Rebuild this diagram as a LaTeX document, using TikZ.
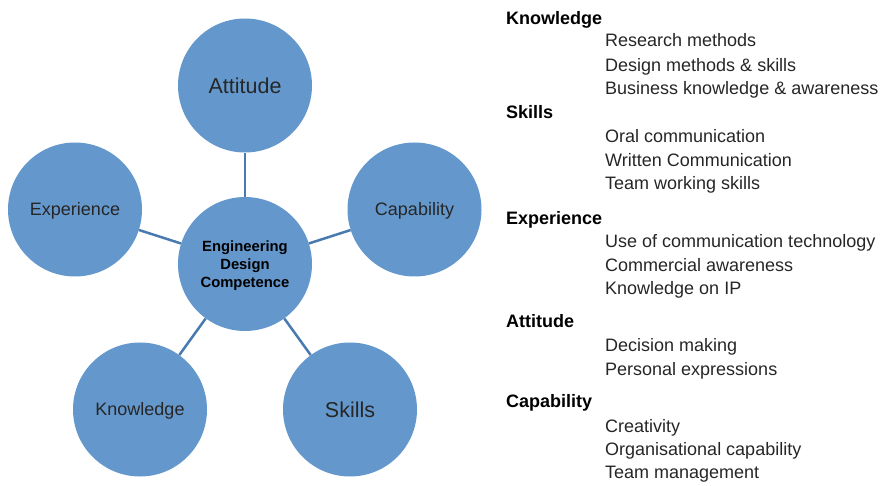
\documentclass[tikz,border=0pt]{standalone}
\usepackage{fontspec}
\setmainfont{Liberation Sans}
\definecolor{cfill}{RGB}{100,152,204}
\definecolor{cline}{RGB}{72,122,176}
\begin{document}
\begin{tikzpicture}[x=1pt,y=-1pt,
  bub/.style={circle,fill=cfill,draw=none,minimum size=134pt,inner sep=0pt,text=black!85},
  smalllab/.style={font=\fontsize{18}{20}\selectfont,text height=12.9pt,text depth=0pt},
  biglab/.style={font=\fontsize{21.5}{24}\selectfont,text height=15.4pt,text depth=0pt},
  conn/.style={draw=cline,line width=2.5pt},
  hdr/.style={anchor=base west,inner sep=0pt,font=\bfseries\fontsize{18}{20}\selectfont},
  item/.style={anchor=base west,inner sep=0pt,font=\fontsize{18}{20}\selectfont,text=black!85}]
\useasboundingbox (0,0) rectangle (881,486);
\node[bub,align=center,font=\bfseries\fontsize{14.8}{18}\selectfont,text=black,text height=46.6pt,text depth=0pt] (c) at (245,264) {Engineering\\Design\\Competence};
\node[bub,biglab] (att) at (245,85.5) {Attitude};
\node[bub,smalllab] (exp) at (75,209.5) {Experience};
\node[bub,smalllab] (cap) at (414.5,209.5) {Capability};
\node[bub,smalllab] (kno) at (140,409.5) {Knowledge};
\node[bub,biglab] (ski) at (350,409.5) {Skills};
\draw[conn] (c) -- (att);
\draw[conn] (c) -- (exp);
\draw[conn] (c) -- (cap);
\draw[conn] (c) -- (kno);
\draw[conn] (c) -- (ski);
% right list
\node[hdr] (h1) at (506,25) {Knowledge};
\node[item] (i11) at (605,47) {Research methods};
\node[item] (i12) at (605,71.5) {Design methods \& skills};
\node[item] (i13) at (605,95) {Business knowledge \& awareness};
\node[hdr] (h2) at (506,119) {Skills};
\node[item] (i21) at (605,143) {Oral communication};
\node[item] (i22) at (605,167) {Written Communication};
\node[item] (i23) at (605,190) {Team working skills};
\node[hdr] (h3) at (506,225) {Experience};
\node[item] (i31) at (605,248) {Use of communication technology};
\node[item] (i32) at (605,272) {Commercial awareness};
\node[item] (i33) at (605,295) {Knowledge on IP};
\node[hdr] (h4) at (506,327) {Attitude};
\node[item] (i41) at (605,352) {Decision making};
\node[item] (i42) at (605,375) {Personal expressions};
\node[hdr] (h5) at (506,407) {Capability};
\node[item] (i51) at (605,432) {Creativity};
\node[item] (i52) at (605,455) {Organisational capability};
\node[item] (i53) at (605,478) {Team management};
\end{tikzpicture}
\end{document}
